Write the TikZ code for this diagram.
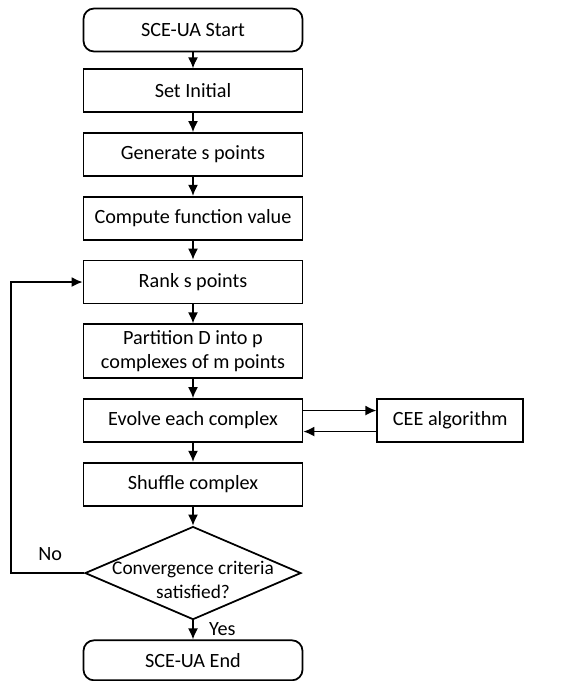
\documentclass[tikz,border=0pt]{standalone}
\usepackage{fontspec}
\setmainfont{Carlito}
\usetikzlibrary{shapes.geometric,positioning,arrows.meta}

\begin{document}
\begin{tikzpicture}[
  stepbox/.style={rectangle, draw, line width=1pt, minimum width=4.38cm, minimum height=0.86cm, align=center, font=\fontsize{11.5}{14}\selectfont},
  terminal/.style={stepbox, rounded corners=6pt},
  decision/.style={diamond, draw, line width=1pt, minimum width=4.32cm, minimum height=1.86cm, inner sep=0pt},
  arrow/.style={-{Latex[length=2.2mm, width=2mm]}, line width=0.9pt},
  answer/.style={font=\fontsize{11.5}{14}\selectfont},
  node distance=0.38cm,
]
\useasboundingbox (0,0) rectangle (11.58,-13.62);

% === Main chain ===
\node[terminal] (start) at (3.86,-0.6) {SCE-UA Start};
\node[stepbox, below=0.32cm of start] (init) {Set Initial};
\node[stepbox, below=of init] (gen) {Generate s points};
\node[stepbox, below=of gen] (comp) {Compute function value};
\node[stepbox, below=of comp] (rank) {Rank s points};
\node[stepbox, below=of rank, minimum height=1.08cm] (part) {Partition D into p\\complexes of m points};
\node[stepbox, below=of part] (evolve) {Evolve each complex};
\node[stepbox, below=of evolve] (shuffle) {Shuffle complex};
\node[decision, below=of shuffle,
  label={[align=center, yshift=-0.14cm, font=\fontsize{11}{14}\selectfont]center:{Convergence criteria\\satisfied?}}] (conv) {};
\node[terminal, below=of conv, minimum height=0.8cm] (finish) {SCE-UA End};

% === Side process ===
\node[stepbox, right=1.46cm of evolve, minimum width=2.92cm] (cee) {CEE algorithm};

\draw[arrow] (start) -- (init);
\draw[arrow] (init) -- (gen);
\draw[arrow] (gen) -- (comp);
\draw[arrow] (comp) -- (rank);
\draw[arrow] (rank) -- (part);
\draw[arrow] (part) -- (evolve);
\draw[arrow] (evolve) -- (shuffle);
\draw[arrow] (shuffle) -- (conv);
\draw[arrow] (conv) -- (finish);

\draw[arrow] ([yshift=0.2cm]evolve.east) -- ([yshift=0.2cm]cee.west);
\draw[arrow] ([yshift=-0.22cm]cee.west) -- ([yshift=-0.22cm]evolve.east);

% === Loop back ===
\draw[arrow] (conv.west) -- ++(-1.46,0) |- (rank.west);
\node[answer] (no) at ([xshift=-0.68cm, yshift=0.38cm]conv.west) {No};
\node[answer, anchor=west] (yes) at ([xshift=0.2cm, yshift=-0.18cm]conv.south) {Yes};

\end{tikzpicture}
\end{document}
